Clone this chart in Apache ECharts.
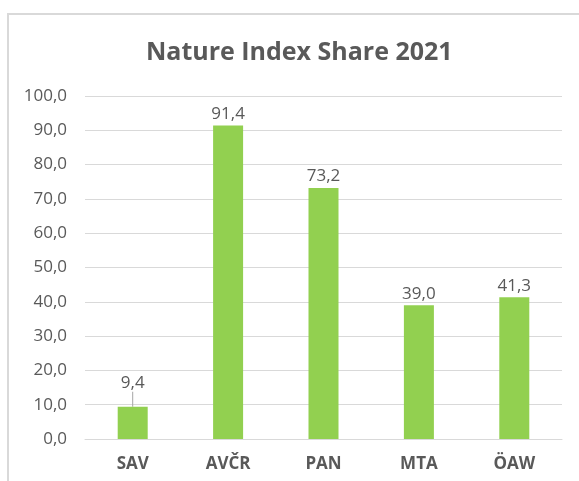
<!DOCTYPE html>
<html lang="en">
<head>
    <meta charset="UTF-8">
    <title>Nature Index Share 2021</title>
    <style>
        html, body { margin: 0; padding: 0; background: #fff; }
        #main { width: 579px; height: 481px; }
    </style>
</head>
<body>
    <div id="main"></div>
<script type="text/javascript" src="https://cdn.jsdelivr.net/npm/echarts@6/dist/echarts.min.js"></script>
<script type="text/javascript">
    var categories = ['SAV', 'AVČR', 'PAN', 'MTA', 'ÖAW'];
    var shares = [9.4, 91.4, 73.2, 39.0, 41.3];

    var font = '"Open Sans", Lato, sans-serif';
    var grey = '#595959';

    function fmt(v) {
        return Number(v).toFixed(1).replace('.', ',');
    }

    // only the small SAV bar gets its label lifted with a leader line (like Excel)
    var barData = shares.map(function (v, i) {
        var item = { value: v };
        if (i === 0) {
            item.labelLine = { show: true };
        }
        return item;
    });

    var myChart = echarts.init(document.getElementById('main'));

    var option = {
        backgroundColor: '#fff',
        animation: false,
        title: {
            text: 'Nature Index Share 2021',
            left: 141,
            top: 35,
            textStyle: {
                fontFamily: font,
                fontSize: 25,
                fontWeight: 'bold',
                color: grey
            }
        },
        graphic: [{
            type: 'rect',
            shape: { x: 8, y: 14, width: 640, height: 560 },
            style: { fill: 'none', stroke: '#d9d9d9', lineWidth: 2 },
            silent: true
        }],
        grid: {
            left: 85,
            right: 17,
            top: 96,
            bottom: 42
        },
        xAxis: {
            type: 'category',
            data: categories,
            axisLine: { show: true, lineStyle: { color: '#d9d9d9' } },
            axisTick: { show: false },
            axisLabel: {
                margin: 17,
                fontFamily: font,
                fontSize: 17,
                fontWeight: 'bold',
                color: grey
            }
        },
        yAxis: {
            type: 'value',
            min: 0,
            max: 100,
            interval: 10,
            axisLine: { show: false },
            axisTick: { show: false },
            splitLine: { lineStyle: { color: '#d9d9d9' } },
            axisLabel: {
                margin: 18,
                fontFamily: font,
                fontSize: 17,
                color: grey,
                formatter: fmt
            }
        },
        series: [{
            type: 'bar',
            data: barData,
            barWidth: 30,
            itemStyle: { color: '#92d050' },
            label: {
                show: true,
                position: 'top',
                distance: 3,
                fontFamily: font,
                fontSize: 17,
                color: grey,
                formatter: function (p) { return fmt(p.value); }
            },
            labelLayout: function (params) {
                if (params.dataIndex === 0) {
                    return { dy: -12 };
                }
                return {};
            },
            labelLine: {
                show: false,
                length2: 0,
                lineStyle: { color: '#a6a6a6', width: 1 }
            }
        }]
    };

    myChart.setOption(option);
</script>
</body>
</html>
